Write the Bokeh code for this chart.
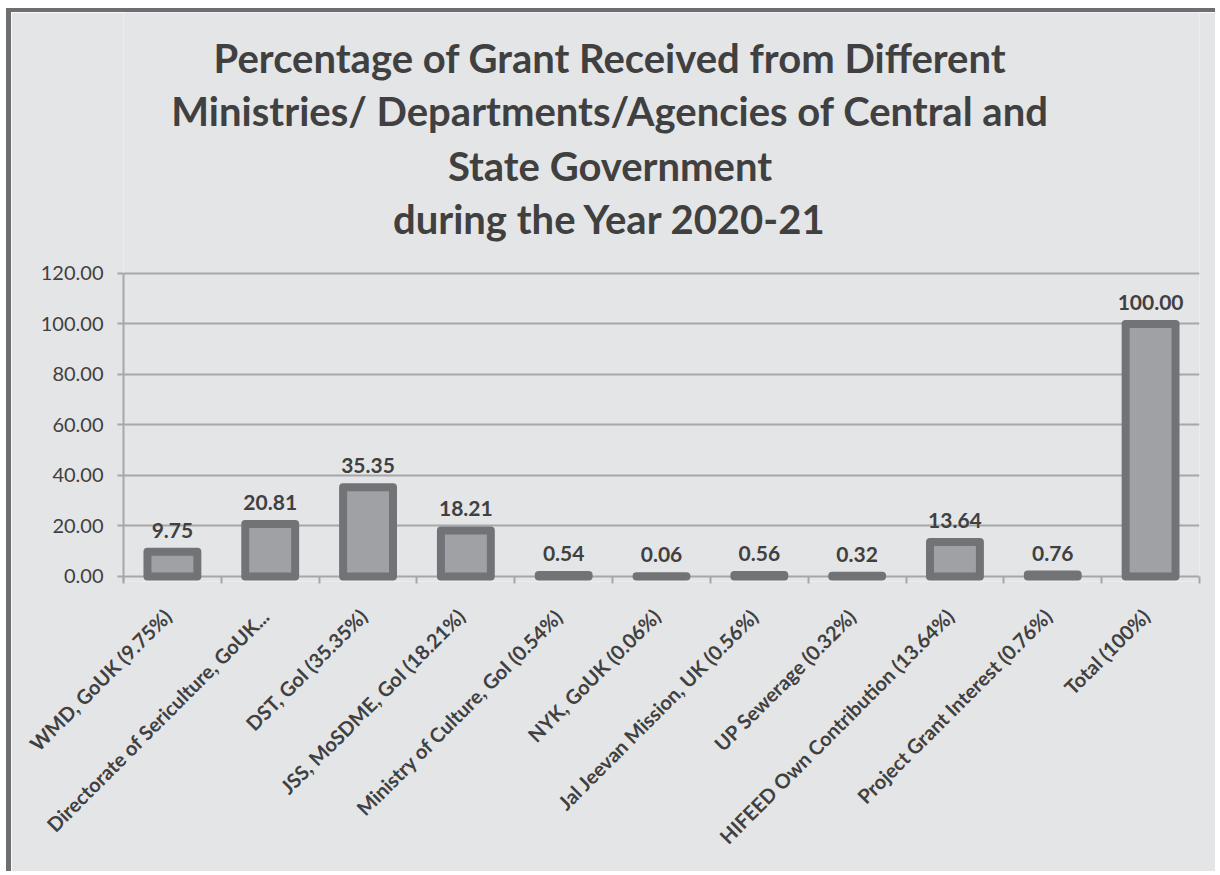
from math import pi
from bokeh.plotting import figure
from bokeh.models import (ColumnDataSource, LabelSet, Label, FixedTicker, Range1d,
                          NumeralTickFormatter, LinearAxis)
from bokeh.core.properties import value
from bokeh.embed import file_html
from bokeh.resources import INLINE

categories = [
    "WMD, GoUK (9.75%)",
    "Directorate of Sericulture, GoUK...",
    "DST, GoI (35.35%)",
    "JSS, MoSDME, GoI (18.21%)",
    "Ministry of Culture, GoI (0.54%)",
    "NYK, GoUK (0.06%)",
    "Jal Jeevan Mission, UK (0.56%)",
    "UP Sewerage (0.32%)",
    "HIFEED Own Contribution (13.64%)",
    "Project Grant Interest (0.76%)",
    "Total (100%)",
]
values = [9.75, 20.81, 35.35, 18.21, 0.54, 0.06, 0.56, 0.32, 13.64, 0.76, 100.00]
y_ticks = [0, 20, 40, 60, 80, 100, 120]
title_lines = [
    "Percentage of Grant Received from Different",
    "Ministries/ Departments/Agencies of Central and",
    "State Government",
    "during the Year 2020-21",
]

FONT = "Lato"
BG = "#e4e5e7"
TXT = "#404040"
GRID = "#a6a7aa"
EDGE = "#727377"
FILL = "#a0a1a4"

n = len(categories)
xs = list(range(1, n + 1))
bounds = [i + 0.5 for i in range(n + 1)]
LAB_SHIFT = 0.05  # category labels sit slightly left of the bar centres

# layout (pixels inside the figure canvas)
FIG_W, FIG_H = 1209, 863
BORDER_L, BORDER_R, BORDER_B = 112, 21, 294
Y0, Y1 = -2, 120             # axis extent
PX_PER_UNIT = 2.5246
Y_TOP = Y0 + (FIG_H - BORDER_B) / PX_PER_UNIT   # frame spans the whole top so the title can sit in it

src = ColumnDataSource(dict(x=xs, top=values, label=[f"{v:.2f}" for v in values]))

p = figure(width=FIG_W, height=FIG_H, output_backend="svg", toolbar_location=None,
           x_range=Range1d(0.5, n + 0.5), y_range=Range1d(Y0, Y_TOP),
           x_axis_location=None,
           min_border_left=BORDER_L, min_border_right=BORDER_R, min_border_top=0,
           min_border_bottom=BORDER_B,
           background_fill_color=BG, border_fill_color=BG, outline_line_color=None)
p.extra_x_ranges = {"lab": Range1d(0.5 + LAB_SHIFT, n + 0.5 + LAB_SHIFT)}
p.styles = {"border-left": "5px solid #6d6e71", "border-top": "4px solid #6d6e71",
            "margin-left": "6px", "margin-top": "8px"}

p.vbar(x="x", top="top", bottom=0, width=0.51, fill_color=FILL, line_color=EDGE,
       line_width=8, line_join="round", source=src)

labels = LabelSet(x="x", y="top", text="label", source=src, y_offset=14,
                  text_align="center", text_baseline="bottom",
                  text_font=value(FONT), text_font_style="bold",
                  text_font_size="21px", text_color=TXT)
p.add_layout(labels)

# y axis
p.yaxis.ticker = FixedTicker(ticks=y_ticks)
p.yaxis.bounds = (Y0, Y1)
p.yaxis.formatter = NumeralTickFormatter(format="0.00")
p.yaxis.major_label_text_font = FONT
p.yaxis.major_label_text_font_size = "20px"
p.yaxis.major_label_text_color = TXT
p.yaxis.axis_line_color = GRID
p.yaxis.axis_line_width = 2
p.yaxis.major_tick_line_color = GRID
p.yaxis.major_tick_line_width = 2
p.yaxis.major_tick_out = 6
p.yaxis.major_tick_in = 0
p.yaxis.minor_tick_line_color = None
p.yaxis.major_label_standoff = 14
p.ygrid.grid_line_color = GRID
p.ygrid.grid_line_width = 2

# category axis (the zero grid line acts as its axis line)
xaxis = LinearAxis(x_range_name="lab",
                   ticker=FixedTicker(ticks=xs, minor_ticks=[b + LAB_SHIFT for b in bounds]),
                   major_label_overrides={x: c for x, c in zip(xs, categories)},
                   major_label_orientation=pi / 4,
                   major_label_text_font=FONT, major_label_text_font_style="bold",
                   major_label_text_font_size="20px", major_label_text_color=TXT,
                   major_tick_line_color=None,
                   minor_tick_line_color=GRID, minor_tick_line_width=2,
                   minor_tick_out=2, minor_tick_in=5,
                   axis_line_color=None, major_label_standoff=25)
p.add_layout(xaxis, "below")

# title, centred on the whole chart (not on the plot frame)
frame_w = FIG_W - BORDER_L - BORDER_R
title_x = 0.5 + n * ((FIG_W / 2 - 6) - BORDER_L) / frame_w
title_px = [45, 98, 153, 206]   # line centres, pixels from the canvas top
for line, ty in zip(title_lines, title_px):
    p.add_layout(Label(x=title_x, y=Y_TOP - ty / PX_PER_UNIT, text=line,
                       text_align="center", text_baseline="middle",
                       text_font=FONT, text_font_style="bold",
                       text_font_size="40px", text_color=TXT))

open("out.html", "w").write(file_html(p, INLINE))
